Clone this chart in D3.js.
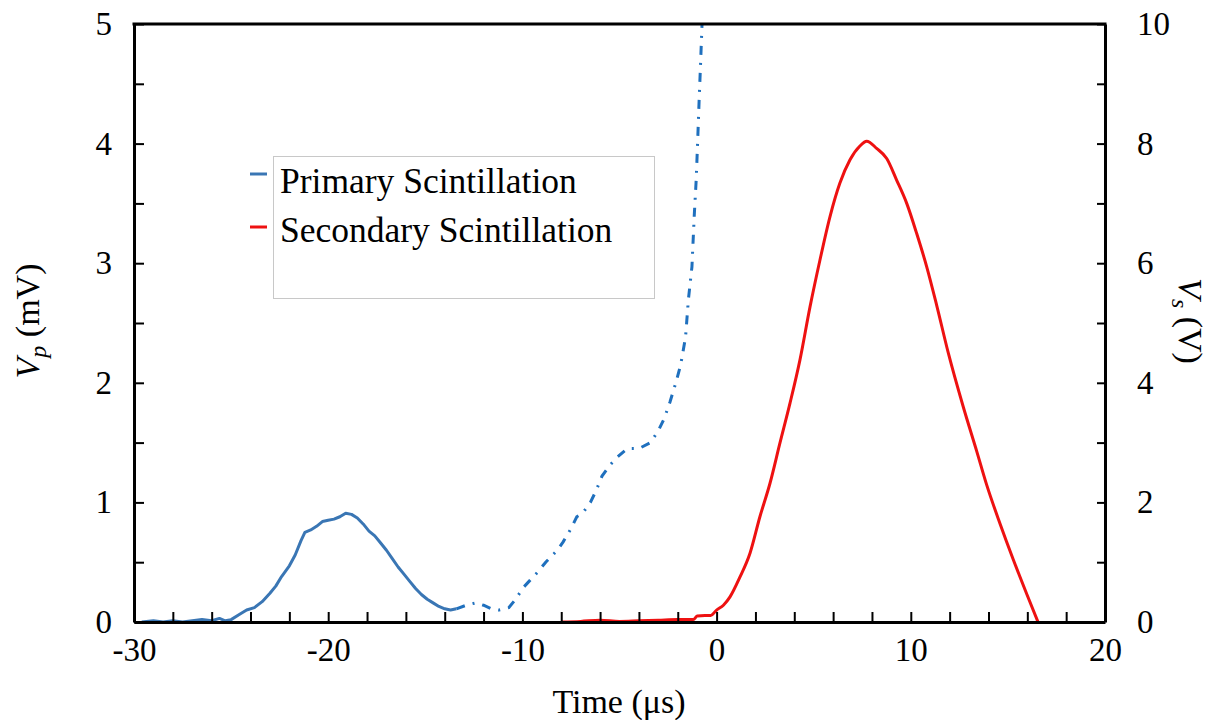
<!DOCTYPE html>
<html lang="en">
<head>
    <meta charset="UTF-8">
    <title>Scintillation</title>
    <script src="https://d3js.org/d3.v7.min.js"></script>
    <style>
      body { margin: 0; background: #fff; }
    </style>
</head>
<body>
    <div id="chart"></div>

<script>
    // primary scintillation (mV), solid part
    const primTime = [-29.6,-29.0,-28.5,-28.0,-27.5,-27.0,-26.5,-26.0,-25.6,-25.3,-25.0,-24.6,-24.2,-23.8,-23.4,-23.0,-22.7,-22.4,-22.0,-21.7,-21.4,-21.2,-20.9,-20.6,-20.3,-20.0,-19.7,-19.4,-19.1,-18.8,-18.5,-18.2,-17.9,-17.6,-17.3,-17.0,-16.7,-16.4,-16.1,-15.8,-15.5,-15.2,-14.9,-14.6,-14.3,-14.0,-13.7,-13.4];
    const primV    = [0.00,0.01,0.00,0.01,0.00,0.01,0.02,0.01,0.03,0.01,0.02,0.06,0.10,0.12,0.17,0.24,0.30,0.38,0.47,0.56,0.68,0.75,0.77,0.80,0.84,0.85,0.86,0.88,0.91,0.90,0.87,0.82,0.76,0.72,0.66,0.60,0.53,0.46,0.40,0.34,0.28,0.23,0.19,0.16,0.13,0.11,0.10,0.11];

    // primary scintillation (mV), dash-dot part
    const tailTime = [-13.4,-12.9,-12.4,-12.0,-11.6,-11.2,-10.7,-10.3,-10.0,-9.6,-9.2,-8.8,-8.2,-7.9,-7.5,-7.2,-6.9,-6.5,-6.2,-5.9,-5.5,-5.1,-4.6,-4.0,-3.4,-3.0,-2.7,-2.4,-2.1,-1.85,-1.6,-1.45,-1.27,-1.15,-1.05,-0.98,-0.9,-0.83,-0.75];
    const tailV    = [0.11,0.14,0.16,0.14,0.11,0.10,0.12,0.20,0.28,0.35,0.42,0.50,0.60,0.67,0.78,0.88,0.91,1.00,1.10,1.22,1.31,1.38,1.45,1.45,1.50,1.60,1.70,1.84,2.00,2.15,2.38,2.70,2.97,3.40,3.70,4.00,4.36,4.65,5.00];

    // secondary scintillation (V)
    const secTime = [-8.0,-7.0,-6.0,-5.0,-4.0,-3.0,-2.0,-1.2,-1.0,-0.6,-0.3,0.0,0.35,0.69,1.2,1.72,2.23,2.75,3.26,3.78,4.29,4.81,5.32,5.84,6.35,6.87,7.38,7.73,8.24,8.76,9.27,9.79,10.3,10.82,11.33,11.93,12.7,13.4,13.92,14.6,15.27,15.98,16.55];
    const secV    = [0.00,0.01,0.03,0.01,0.02,0.03,0.04,0.04,0.10,0.11,0.11,0.20,0.28,0.42,0.75,1.15,1.76,2.32,2.99,3.66,4.38,5.27,6.05,6.78,7.34,7.73,7.96,8.04,7.92,7.75,7.39,7.00,6.50,5.94,5.30,4.50,3.60,2.85,2.28,1.64,1.05,0.46,0.00];

    const xTickLabels = [-30,-20,-10,0,10,20];
    const leftTickLabels = [0,1,2,3,4,5];
    const rightTickLabels = [0,2,4,6,8,10];
    const legendNames = ["Primary Scintillation", "Secondary Scintillation"];

    const w = 1209;
    const h = 720;
    const pLeft = 134, pRight = 1105, pTop = 24, pBottom = 622;
    const blue = "#3a76b4", blueDash = "#1f70be", red = "#ee1111";
    const serif = '"Liberation Serif", "Times New Roman", serif';

    const svg = d3.select("#chart")
                  .append("svg")
                  .attr("width", w)
                  .attr("height", h);

    const xscale = d3.scaleLinear().domain([-30, 20]).range([pLeft, pRight]);
    const yleft = d3.scaleLinear().domain([0, 5]).range([pBottom, pTop]);
    const yright = d3.scaleLinear().domain([0, 10]).range([pBottom, pTop]);

    svg.append("clipPath").attr("id", "plot")
       .append("rect")
       .attr("x", pLeft).attr("y", pTop)
       .attr("width", pRight - pLeft).attr("height", pBottom - pTop);

    const lineL = d3.line().x(d => xscale(d[0])).y(d => yleft(d[1]));
    const lineR = d3.line().x(d => xscale(d[0])).y(d => yright(d[1])).curve(d3.curveMonotoneX);

    const g = svg.append("g").attr("clip-path", "url(#plot)");

    g.append("path")
     .datum(tailTime.map((t, i) => [t, tailV[i]]))
     .attr("d", lineL)
     .attr("fill", "none")
     .attr("stroke", blueDash)
     .attr("stroke-width", 3)
     .attr("stroke-dasharray", "9,8,2,8");

    g.append("path")
     .datum(primTime.map((t, i) => [t, primV[i]]))
     .attr("d", lineL)
     .attr("fill", "none")
     .attr("stroke", blue)
     .attr("stroke-width", 3)
     .attr("stroke-linejoin", "round");

    g.append("path")
     .datum(secTime.map((t, i) => [t, secV[i]]))
     .attr("d", lineR)
     .attr("fill", "none")
     .attr("stroke", red)
     .attr("stroke-width", 3)
     .attr("stroke-linejoin", "round");

    // axes, ticks pointing inward
    const xAxis = d3.axisBottom(xscale)
                    .tickValues(d3.range(-30, 21, 2))
                    .tickSize(-10).tickSizeOuter(0)
                    .tickFormat(d => xTickLabels.includes(d) ? String(d) : "")
                    .tickPadding(16);
    const lAxis = d3.axisLeft(yleft)
                    .tickValues(d3.range(0, 5.01, 0.5))
                    .tickSize(-10).tickSizeOuter(0)
                    .tickFormat(d => leftTickLabels.includes(d) ? String(d) : "")
                    .tickPadding(22);
    const rAxis = d3.axisRight(yright)
                    .tickValues(d3.range(0, 10.01, 1))
                    .tickSize(-8).tickSizeOuter(0)
                    .tickFormat(d => rightTickLabels.includes(d) ? String(d) : "")
                    .tickPadding(32);

    [[xAxis, `translate(0,${pBottom})`], [lAxis, `translate(${pLeft},0)`], [rAxis, `translate(${pRight},0)`]]
      .forEach(([ax, tr]) => {
        const a = svg.append("g").attr("transform", tr).call(ax);
        a.selectAll("path.domain").attr("stroke", "#000").attr("stroke-width", 3);
        a.selectAll(".tick line").attr("stroke", "#000").attr("stroke-width", 2);
        a.selectAll("text").style("font-family", serif).style("font-size", "33px").attr("fill", "#000");
      });

    // top border
    svg.append("line")
       .attr("x1", pLeft - 1.5).attr("x2", pRight + 1.5)
       .attr("y1", pTop).attr("y2", pTop)
       .attr("stroke", "#000").attr("stroke-width", 3);

    // axis titles
    svg.append("text")
       .attr("x", 619).attr("y", 713)
       .attr("text-anchor", "middle")
       .style("font-family", serif).style("font-size", "34px")
       .text("Time (μs)");

    const yl = svg.append("text")
       .attr("transform", "translate(39,321) rotate(-90)")
       .attr("text-anchor", "middle")
       .style("font-family", serif).style("font-size", "34px");
    yl.append("tspan").attr("font-style", "italic").text("V");
    yl.append("tspan").attr("font-style", "italic").style("font-size", "24px").attr("dy", 7).text("p");
    yl.append("tspan").attr("dy", -7).text(" (mV)");

    const yr = svg.append("text")
       .attr("transform", "translate(1179,321) rotate(90)")
       .attr("text-anchor", "middle")
       .style("font-family", serif).style("font-size", "34px");
    yr.append("tspan").attr("font-style", "italic").text("V");
    yr.append("tspan").attr("font-style", "italic").style("font-size", "24px").attr("dy", 7).text("s");
    yr.append("tspan").attr("dy", -7).text(" (V)");

    // legend
    svg.append("rect")
       .attr("x", 273.5).attr("y", 156.5)
       .attr("width", 381).attr("height", 142)
       .attr("fill", "none")
       .attr("stroke", "#c8c8c8").attr("stroke-width", 1);

    const legendColors = [blue, red];
    legendNames.forEach((name, i) => {
      const ly = 174 + i * 53;
      svg.append("line")
         .attr("x1", 250).attr("x2", 267)
         .attr("y1", ly).attr("y2", ly)
         .attr("stroke", legendColors[i]).attr("stroke-width", 3);
      svg.append("text")
         .attr("x", 280).attr("y", 193 + i * 49)
         .style("font-family", serif).style("font-size", "35.5px")
         .text(name);
    });
</script>
</body>
</html>
